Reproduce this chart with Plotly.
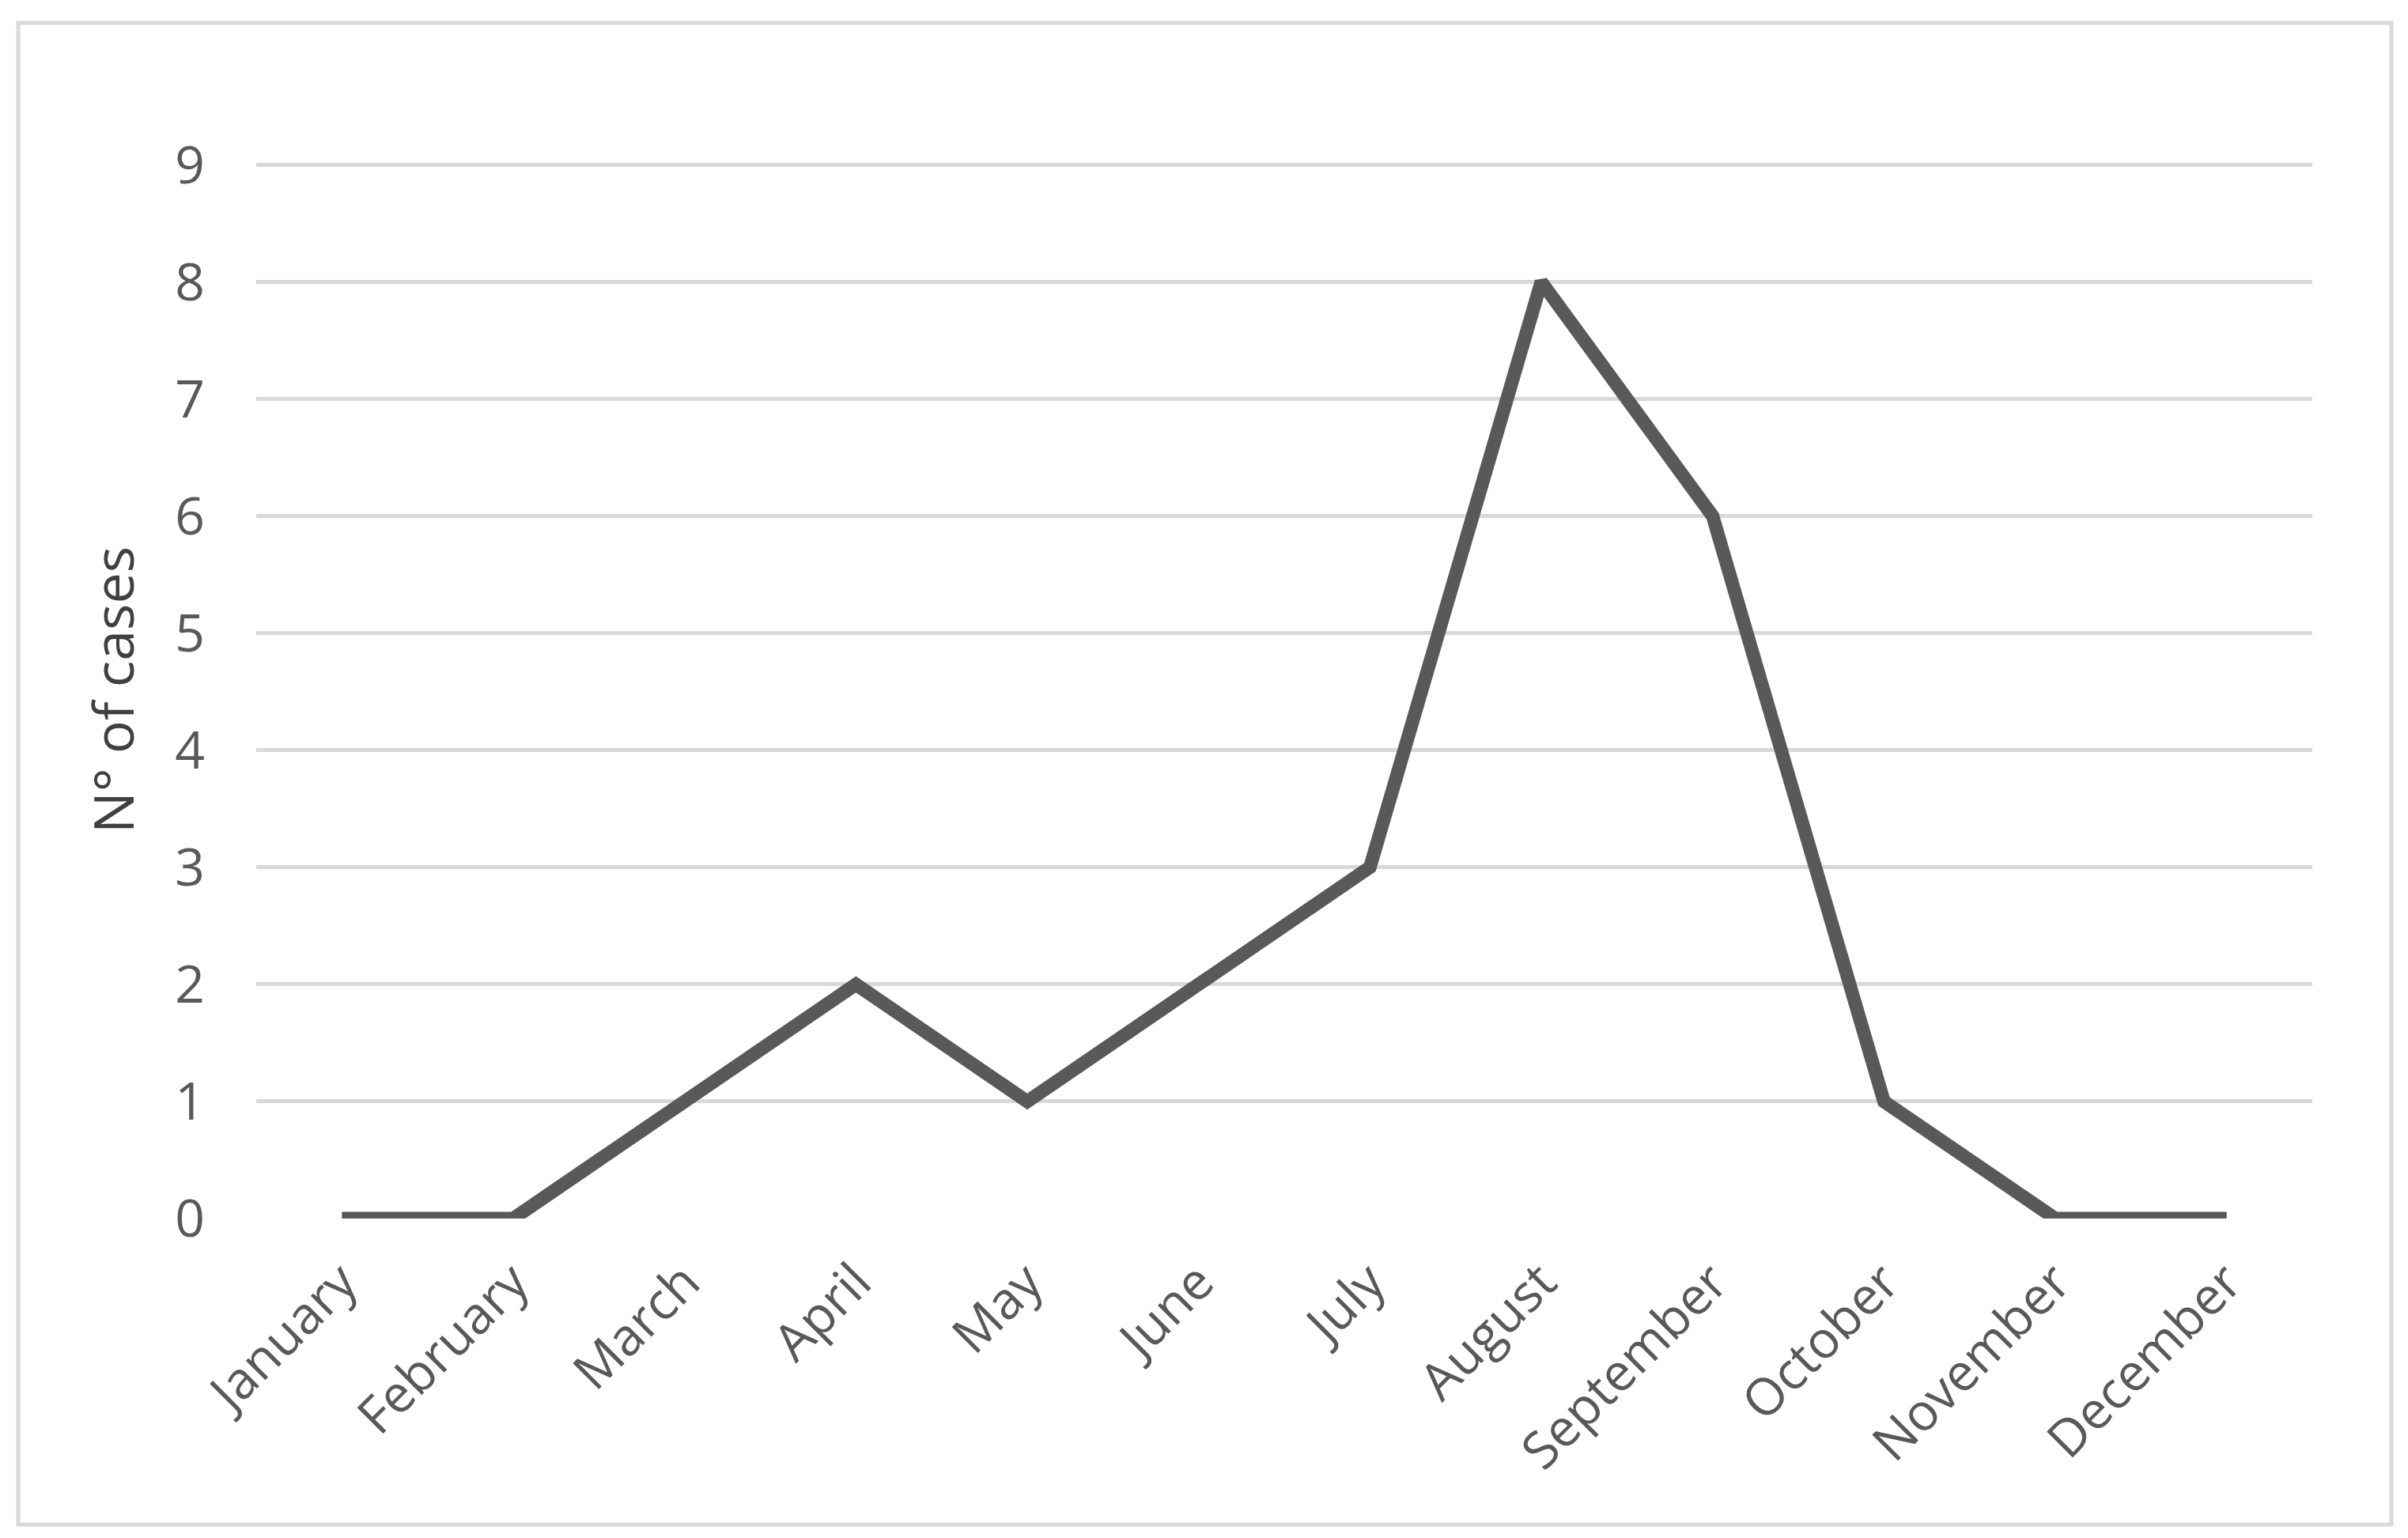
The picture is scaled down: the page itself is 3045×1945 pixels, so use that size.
import plotly.graph_objects as go

months = ["January", "February", "March", "April", "May", "June", "July",
          "August", "September", "October", "November", "December"]
cases = [0, 0, 1, 2, 1, 2, 3, 8, 6, 1, 0, 0]
y_ticks = [0, 1, 2, 3, 4, 5, 6, 7, 8, 9]

W, H = 3045, 1945
OFF = 8  # page body margin offset
y_top = 9.03
unit = (1541 - 208) / 9.0
L = 324 - OFF
R = W - (2924 - OFF)
B = H - (1541 - OFF)
T = (208 - OFF) - int(round((y_top - 9) * unit))
pw, ph = W - L - R, H - T - B

fig = go.Figure()
fig.add_trace(go.Scatter(
    x=months, y=cases, mode="lines",
    line=dict(color="#595959", width=17),
    showlegend=False, hoverinfo="skip",
))

font = "Open Sans, Segoe UI, sans-serif"
fig.update_layout(
    width=W, height=H,
    margin=dict(l=L, r=R, t=T, b=B),
    paper_bgcolor="white", plot_bgcolor="white",
    font=dict(family=font, color="#595959", size=66),
    xaxis=dict(
        type="category", categoryorder="array", categoryarray=months,
        showgrid=False, zeroline=False, showline=False,
        tickangle=-45, ticklabelstandoff=28,
        tickfont=dict(size=65, color="#595959"),
        range=[-0.5, 11.5],
    ),
    yaxis=dict(
        range=[0, y_top], tickvals=y_ticks,
        showgrid=True, gridcolor="#d9d9d9", gridwidth=5,
        zeroline=False, showline=False,
        ticklabelstandoff=64,
        tickfont=dict(size=66, color="#595959"),
        title=dict(text="N° of cases", standoff=28,
                   font=dict(size=70, color="#404040")),
    ),
)

# outer chart border
bx0, bx1, by_top, by_bot = 23 - OFF, 3024 - OFF, 29 - OFF, 1928 - OFF
fig.add_shape(
    type="rect", xref="paper", yref="paper",
    x0=(bx0 - L) / pw, x1=(bx1 - L) / pw,
    y0=(H - B - by_bot) / ph, y1=(H - B - by_top) / ph,
    line=dict(color="#d9d9d9", width=5), fillcolor="rgba(0,0,0,0)",
    layer="below",
)

fig.write_html("out.html")
